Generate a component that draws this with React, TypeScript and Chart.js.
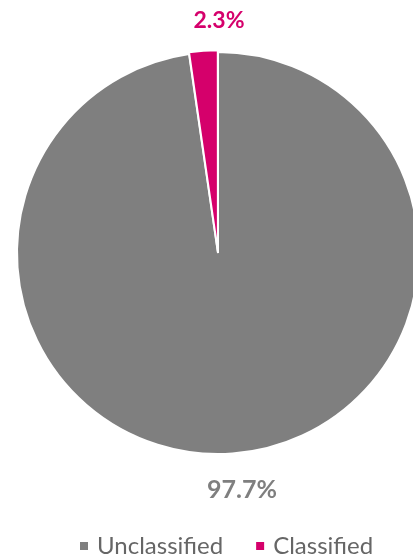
import React, { useEffect, useRef } from "react";
import { Chart, registerables } from "chart.js";

Chart.register(...registerables);

const categories = ["Unclassified", "Classified"];
const values = [97.7, 2.3];
const valueLabels = ["97.7%", "2.3%"];
const colors = ["#7F7F7F", "#D5006B"];

const FONT = "Lato, 'Open Sans', sans-serif";

const overlayPlugin = {
  id: "overlay",
  afterDraw(chart: any) {
    const ctx = chart.ctx as CanvasRenderingContext2D;
    ctx.save();
    // value labels
    ctx.textAlign = "center";
    ctx.textBaseline = "middle";
    const labelPos = [
      { x: 242, y: 490, size: 25 },
      { x: 219, y: 21, size: 23 },
    ];
    valueLabels.forEach((t, i) => {
      ctx.font = `bold ${labelPos[i].size}px ${FONT}`;
      ctx.fillStyle = colors[i];
      ctx.fillText(t, labelPos[i].x, labelPos[i].y);
    });
    // legend
    ctx.font = `24px ${FONT}`;
    ctx.textAlign = "left";
    let x = 80;
    const y = 546;
    categories.forEach((c, i) => {
      ctx.fillStyle = colors[i];
      ctx.fillRect(x, y - 4, 8, 8);
      x += 17;
      ctx.fillStyle = "#666666";
      ctx.fillText(c, x, y);
      x += ctx.measureText(c).width + 33;
    });
    ctx.restore();
  },
};

export default function App() {
  const ref = useRef<HTMLCanvasElement | null>(null);
  useEffect(() => {
    document.body.style.margin = "0";
    document.body.style.overflow = "hidden";
    const chart = new Chart(ref.current!, {
      type: "pie",
      data: {
        labels: categories,
        datasets: [
          {
            data: values,
            backgroundColor: colors,
            borderColor: "#FFFFFF",
            borderWidth: 2,
            offset: [0, 4],
          },
        ],
      },
      options: {
        responsive: false,
        animation: false,
        radius: 201,
        layout: { padding: { bottom: 53 } },
        plugins: {
          legend: { display: false },
          tooltip: { enabled: false },
        },
      },
      plugins: [overlayPlugin],
    });
    return () => chart.destroy();
  }, []);
  return (
    <div style={{ position: "absolute", left: 0, top: 0, width: 413, height: 559, overflow: "hidden", background: "#fff" }}>
      <canvas ref={ref} width={436} height={559} style={{ width: 436, height: 559, display: "block" }} />
    </div>
  );
}
